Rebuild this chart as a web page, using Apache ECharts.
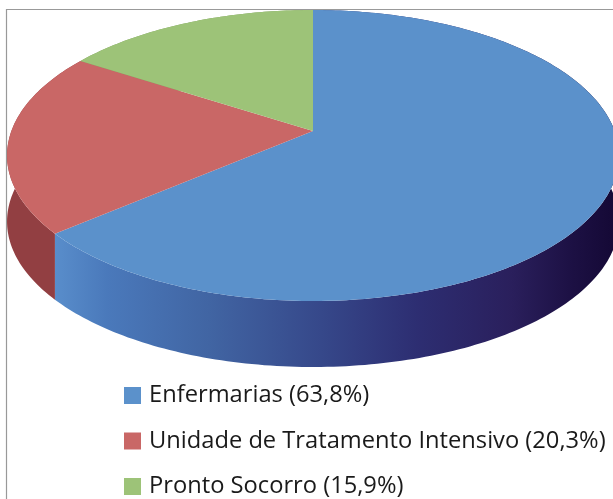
<!DOCTYPE html>
<html>
<head>
<meta charset="utf-8">
<script src="https://cdn.jsdelivr.net/npm/echarts@6/dist/echarts.min.js"></script>
<style>
  html, body { margin: 0; padding: 0; background: #fff; }
  #chart { width: 613px; height: 499px; }
</style>
</head>
<body>
<div id="chart"></div>
<script>
  var categories = ['Enfermarias', 'Unidade de Tratamento Intensivo', 'Pronto Socorro'];
  var values = [63.8, 20.3, 15.9];
  var labels = ['63,8%', '20,3%', '15,9%'];
  var topColors = ['#5b91cb', '#c96766', '#9dc378'];

  // fake perspective: unit circle -> ellipse, apex sits above the ellipse centre
  var apexX = 313, apexY = 131;
  var scaleX = 301.6, scaleY = 119.3, tilt = -0.1684, depth = 66;

  function project(frac, drop) {
    var a = frac * Math.PI * 2;
    var u = Math.sin(a), v = -Math.cos(a);
    var w = 1 + tilt * v;
    return [apexX + scaleX * u / w, (apexY + scaleY * v) / w + drop];
  }

  function arc(from, to, drop) {
    var pts = [];
    var n = Math.max(2, Math.ceil((to - from) * 360));
    for (var i = 0; i <= n; i++) {
      pts.push(project(from + (to - from) * i / n, drop));
    }
    return pts;
  }

  var sideFills = [
    new echarts.graphic.LinearGradient(51, 0, 613, 0, [
      {offset: 0, color: '#5a8fcc'},
      {offset: 0.1, color: '#4a79bb'},
      {offset: 0.28, color: '#4165a3'},
      {offset: 0.48, color: '#36488a'},
      {offset: 0.65, color: '#2d2e72'},
      {offset: 0.82, color: '#2a1f5c'},
      {offset: 0.93, color: '#1c1043'},
      {offset: 1, color: '#150936'}
    ], true),
    '#923f42',
    '#7f9e60'
  ];

  var myChart = echarts.init(document.getElementById('chart'));
  var total = values.reduce(function (s, v) { return s + v; }, 0);
  var run = 0;
  var series = categories.map(function (name, idx) {
    var start = run / total;
    run += values[idx];
    var end = run / total;
    return {
      name: name,
      type: 'custom',
      coordinateSystem: 'none',
      animation: false,
      silent: true,
      itemStyle: {color: topColors[idx]},
      data: [[start, end]],
      renderItem: function (params, api) {
        var from = api.value(0), to = api.value(1);
        var top = arc(from, to, 0);
        var bottom = arc(from, to, depth).reverse();
        return {
          type: 'group',
          children: [{
            type: 'polygon',
            z2: 1,
            shape: {points: top.concat(bottom)},
            style: {fill: sideFills[idx]}
          }, {
            type: 'polygon',
            z2: 10,
            shape: {points: [[apexX, apexY]].concat(top)},
            style: {fill: topColors[idx]}
          }]
        };
      }
    };
  });

  myChart.setOption({
    backgroundColor: '#fff',
    legend: {
      orient: 'vertical',
      left: 124,
      top: 383.5,
      padding: 0,
      icon: 'rect',
      itemWidth: 17,
      itemHeight: 17,
      itemGap: 21.5,
      selectedMode: false,
      data: categories,
      textStyle: {
        fontFamily: 'Open Sans',
        fontSize: 23.7,
        color: '#1a1a1a',
        lineHeight: 24,
        padding: [0, 0, 0, 3]
      },
      formatter: function (name) {
        return name + ' (' + labels[categories.indexOf(name)] + ')';
      }
    },
    graphic: [{
      type: 'polyline',
      silent: true,
      shape: {points: [[6.5, 499], [6.5, 9.5], [613, 9.5]]},
      style: {stroke: '#999', lineWidth: 1.2, fill: null}
    }],
    series: series
  });
</script>
</body>
</html>
